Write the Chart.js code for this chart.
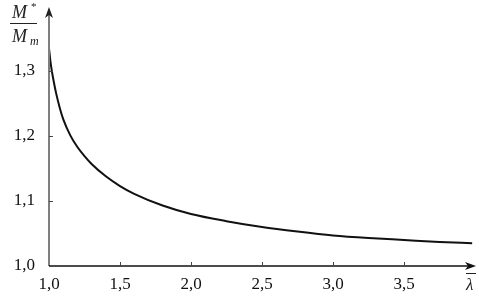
<!DOCTYPE html>
<html>
<head>
<meta charset="utf-8">
<script src="https://cdn.jsdelivr.net/npm/chart.js@4"></script>
<style>
  body { margin: 0; background: #fff; }
  canvas { display: block; }
</style>
</head>
<body>
<canvas id="ratioChart" width="479" height="296"></canvas>
<script>
// curve
const lambda = [1.0, 1.01, 1.02, 1.035, 1.05, 1.075, 1.1, 1.15, 1.2, 1.25, 1.3, 1.4, 1.5, 1.6, 1.8, 2.0, 2.25, 2.5, 2.75, 3.0, 3.25, 3.5, 3.75, 3.98];
const ratio  = [1.335, 1.315, 1.300, 1.282, 1.266, 1.244, 1.226, 1.201, 1.183, 1.169, 1.157, 1.138, 1.123, 1.111, 1.093, 1.080, 1.069, 1.060, 1.053, 1.047, 1.043, 1.040, 1.037, 1.035];
const xTicks = [1.0, 1.5, 2.0, 2.5, 3.0, 3.5];
const yTicks = [1.0, 1.1, 1.2, 1.3];

const serif = '"Liberation Serif", "Times New Roman", serif';
const comma = v => v.toFixed(1).replace('.', ',');

// axes with arrows, small inner ticks and the axis titles
const axesPlugin = {
	id: 'axesPlugin',
	afterDraw(chart) {
		const ctx = chart.ctx;
		const a = chart.chartArea;
		const xs = chart.scales.x, ys = chart.scales.y;
		ctx.save();

		// y axis (grey) with arrow
		ctx.strokeStyle = '#7f7f7f';
		ctx.lineWidth = 2;
		ctx.beginPath();
		ctx.moveTo(a.left, a.bottom);
		ctx.lineTo(a.left, a.top + 6);
		ctx.stroke();
		ctx.fillStyle = '#222';
		ctx.beginPath();
		ctx.moveTo(a.left, a.top + 1);
		ctx.lineTo(a.left - 4, a.top + 12);
		ctx.lineTo(a.left, a.top + 9);
		ctx.lineTo(a.left + 4, a.top + 12);
		ctx.closePath();
		ctx.fill();

		// x axis (black) with arrow
		ctx.strokeStyle = '#111';
		ctx.lineWidth = 1.5;
		ctx.beginPath();
		ctx.moveTo(a.left, a.bottom);
		ctx.lineTo(a.right - 4, a.bottom);
		ctx.stroke();
		ctx.fillStyle = '#111';
		ctx.beginPath();
		ctx.moveTo(a.right + 1, a.bottom);
		ctx.lineTo(a.right - 10, a.bottom - 4);
		ctx.lineTo(a.right - 7, a.bottom);
		ctx.lineTo(a.right - 10, a.bottom + 4);
		ctx.closePath();
		ctx.fill();

		// tick marks
		ctx.strokeStyle = '#444';
		ctx.lineWidth = 1;
		xTicks.slice(1).forEach(v => {
			const px = Math.round(xs.getPixelForValue(v)) + 0.5;
			ctx.beginPath();
			ctx.moveTo(px, a.bottom);
			ctx.lineTo(px, a.bottom - 4);
			ctx.stroke();
		});
		yTicks.slice(1).forEach(v => {
			const py = Math.round(ys.getPixelForValue(v)) + 0.5;
			ctx.beginPath();
			ctx.moveTo(a.left, py);
			ctx.lineTo(a.left + 4, py);
			ctx.stroke();
		});

		// y title: M* / Mm
		ctx.fillStyle = '#222';
		ctx.textBaseline = 'alphabetic';
		ctx.textAlign = 'left';
		ctx.font = 'italic 18px ' + serif;
		ctx.fillText('M', 12, 18);
		ctx.font = '11px ' + serif;
		ctx.fillText('*', 31, 10);
		ctx.strokeStyle = '#222';
		ctx.lineWidth = 1;
		ctx.beginPath();
		ctx.moveTo(10, 23.5);
		ctx.lineTo(37, 23.5);
		ctx.stroke();
		ctx.font = 'italic 18px ' + serif;
		ctx.fillText('M', 12, 42);
		ctx.font = 'italic 12px ' + serif;
		ctx.fillText('m', 30, 45);

		// x title: lambda with bar
		ctx.font = 'italic 17px ' + serif;
		ctx.fillText('λ', 466, 290);
		ctx.beginPath();
		ctx.moveTo(466, 273.5);
		ctx.lineTo(476, 273.5);
		ctx.stroke();

		ctx.restore();
	}
};

new Chart(document.getElementById('ratioChart'), {
	type: 'line',
	data: {
		datasets: [
			{
				data: lambda.map((x, i) => ({ x: x, y: ratio[i] })),
				borderColor: '#111',
				borderWidth: 2,
				pointRadius: 0,
				fill: false,
				tension: 0.4,
				cubicInterpolationMode: 'monotone'
			}
		]
	},
	options: {
		responsive: false,
		animation: false,
		devicePixelRatio: 1,
		layout: { padding: { top: 6, right: 4, left: 0, bottom: 0 } },
		plugins: {
			legend: { display: false },
			tooltip: { enabled: false }
		},
		scales: {
			x: {
				type: 'linear',
				min: 1.0,
				max: 4.0,
				afterBuildTicks: s => { s.ticks = xTicks.map(v => ({ value: v })); },
				afterFit: s => { s.height = 30; s.paddingLeft = 0; s.paddingRight = 0; },
				grid: { display: false, drawTicks: false },
				border: { display: false },
				ticks: {
					padding: 8,
					color: '#111',
					font: { family: serif, size: 17 },
					maxRotation: 0,
					callback: v => comma(v)
				}
			},
			y: {
				type: 'linear',
				min: 1.0,
				max: 1.4,
				afterBuildTicks: s => { s.ticks = yTicks.map(v => ({ value: v })); },
				afterFit: s => { s.width = 49; s.paddingTop = 0; s.paddingBottom = 0; },
				grid: { display: false, drawTicks: false },
				border: { display: false },
				ticks: {
					padding: 14,
					color: '#111',
					font: { family: serif, size: 17 },
					callback: v => comma(v)
				}
			}
		}
	},
	plugins: [axesPlugin]
});
</script>
</body>
</html>
